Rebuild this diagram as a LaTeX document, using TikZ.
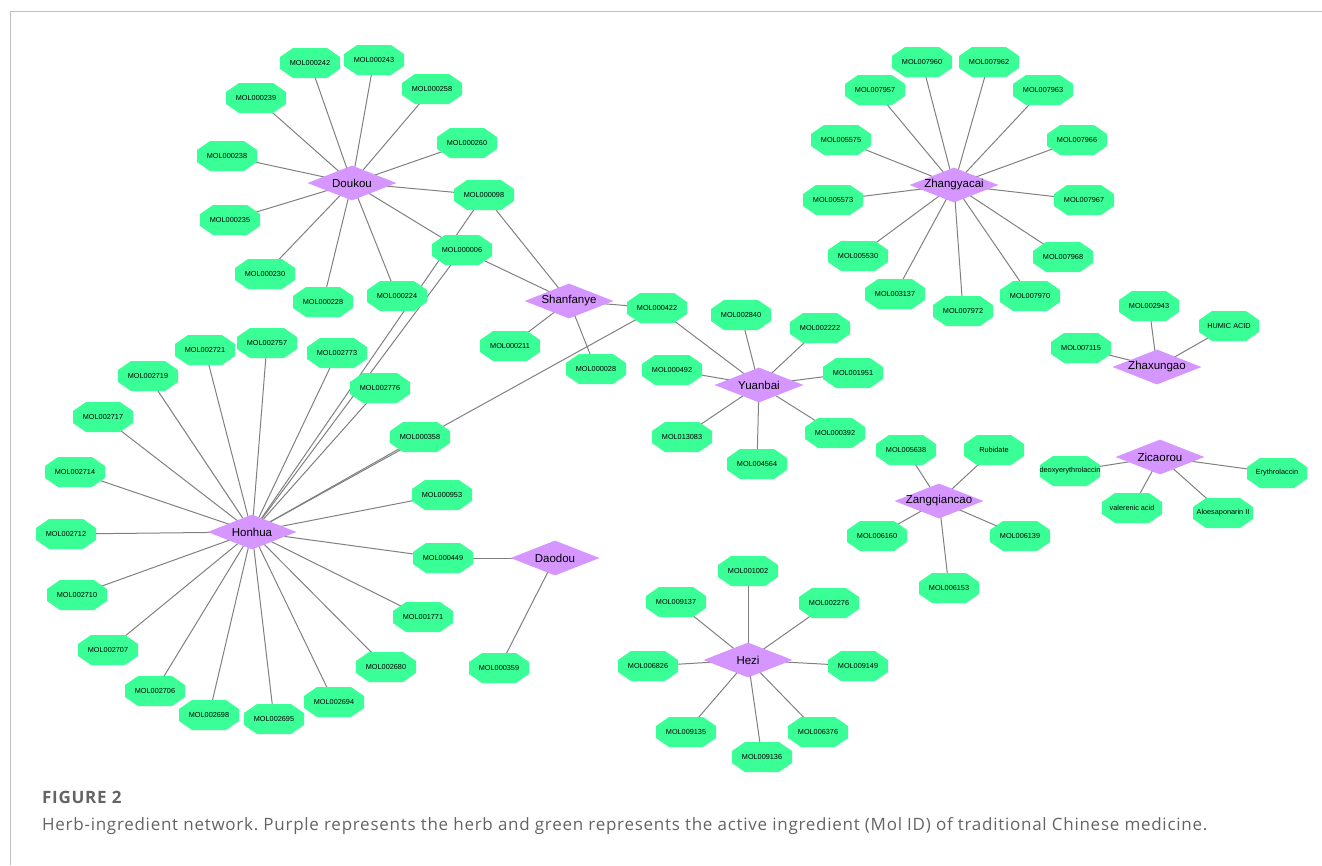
\documentclass[tikz,border=0pt]{standalone}
\usepackage{fontspec}
\setmainfont{Liberation Sans}
\newfontfamily\capfont[LetterSpace=4.3]{Open Sans}
\usetikzlibrary{shapes.geometric,backgrounds}
\definecolor{molgreen}{RGB}{58,255,150}
\definecolor{herbpurple}{RGB}{214,150,255}
\definecolor{edgegray}{RGB}{128,128,128}
\definecolor{framegray}{RGB}{190,190,190}
\definecolor{capgray}{RGB}{100,100,100}
\newcommand\mylbl[1]{\makebox[0pt]{#1}}
\tikzset{
  mol/.style={rectangle, draw=none, minimum width=60pt, minimum height=30pt, inner sep=0pt,
    font=\fontsize{7.3}{8}\selectfont,
    path picture={\fill[molgreen]
      ([xshift=13pt]path picture bounding box.north west) --
      ([xshift=-13pt]path picture bounding box.north east) --
      ([yshift=-9pt]path picture bounding box.north east) --
      ([yshift=9pt]path picture bounding box.south east) --
      ([xshift=-13pt]path picture bounding box.south east) --
      ([xshift=13pt]path picture bounding box.south west) --
      ([yshift=9pt]path picture bounding box.south west) --
      ([yshift=-9pt]path picture bounding box.north west) -- cycle;}},
  herb/.style={diamond, fill=herbpurple, draw=none, minimum width=89pt, minimum height=35pt,
    inner sep=0pt, font=\fontsize{11.5}{12}\selectfont},
  edge/.style={draw=edgegray, line width=1pt},
  frame/.style={draw=framegray, line width=1pt}
}
\begin{document}
\frenchspacing
\begin{tikzpicture}[x=1pt,y=-1pt]
\useasboundingbox (0,0) rectangle (1322,865);
\coordinate (ftl) at (10,11);
\coordinate (ftr) at (1322,11);
\coordinate (fbl) at (10,865);
\draw[frame] (fbl) -- (ftl) -- (ftr);

% herbs
\node[herb] (Doukou) at (352,183) {\mylbl{Doukou}};
\node[herb] (Honhua) at (252,532) {\mylbl{Honhua}};
\node[herb] (Shanfanye) at (569,301) {\mylbl{Shanfanye}};
\node[herb] (Yuanbai) at (759,385) {\mylbl{Yuanbai}};
\node[herb] (Zhangyacai) at (954,185) {\mylbl{Zhangyacai}};
\node[herb] (Zhaxungao) at (1157,367) {\mylbl{Zhaxungao}};
\node[herb] (Zicaorou) at (1160,457) {\mylbl{Zicaorou}};
\node[herb] (Zangqiancao) at (939,501) {\mylbl{Zangqiancao}};
\node[herb] (Daodou) at (555,558) {\mylbl{Daodou}};
\node[herb] (Hezi) at (748,660) {\mylbl{Hezi}};

% Doukou ingredients
\node[mol] (m000242) at (310,63) {\mylbl{MOL000242}};
\node[mol] (m000243) at (374,60) {\mylbl{MOL000243}};
\node[mol] (m000258) at (432,89) {\mylbl{MOL000258}};
\node[mol] (m000239) at (256,98) {\mylbl{MOL000239}};
\node[mol] (m000260) at (467,143) {\mylbl{MOL000260}};
\node[mol] (m000238) at (227,156) {\mylbl{MOL000238}};
\node[mol] (m000098) at (484,195) {\mylbl{MOL000098}};
\node[mol] (m000235) at (230,220) {\mylbl{MOL000235}};
\node[mol] (m000006) at (462,250) {\mylbl{MOL000006}};
\node[mol] (m000230) at (265,274) {\mylbl{MOL000230}};
\node[mol] (m000228) at (323,302) {\mylbl{MOL000228}};
\node[mol] (m000224) at (397,296) {\mylbl{MOL000224}};

% Honhua ingredients
\node[mol] (m002721) at (205,350) {\mylbl{MOL002721}};
\node[mol] (m002757) at (267,343) {\mylbl{MOL002757}};
\node[mol] (m002773) at (337,353) {\mylbl{MOL002773}};
\node[mol] (m002719) at (148,376) {\mylbl{MOL002719}};
\node[mol] (m002776) at (380,388) {\mylbl{MOL002776}};
\node[mol] (m002717) at (103,417) {\mylbl{MOL002717}};
\node[mol] (m000358) at (420,437) {\mylbl{MOL000358}};
\node[mol] (m002714) at (75,472) {\mylbl{MOL002714}};
\node[mol] (m000953) at (442,495) {\mylbl{MOL000953}};
\node[mol] (m002712) at (66,534) {\mylbl{MOL002712}};
\node[mol] (m000449) at (443,558) {\mylbl{MOL000449}};
\node[mol] (m002710) at (77,595) {\mylbl{MOL002710}};
\node[mol] (m001771) at (423,617) {\mylbl{MOL001771}};
\node[mol] (m002707) at (108,650) {\mylbl{MOL002707}};
\node[mol] (m002680) at (386,667) {\mylbl{MOL002680}};
\node[mol] (m002706) at (155,691) {\mylbl{MOL002706}};
\node[mol] (m002694) at (334,702) {\mylbl{MOL002694}};
\node[mol] (m002698) at (209,715) {\mylbl{MOL002698}};
\node[mol] (m002695) at (274,719) {\mylbl{MOL002695}};

% Shanfanye / Yuanbai
\node[mol] (m000422) at (657,308) {\mylbl{MOL000422}};
\node[mol] (m000211) at (510,346) {\mylbl{MOL000211}};
\node[mol] (m000028) at (596,369) {\mylbl{MOL000028}};
\node[mol] (m002840) at (741,315) {\mylbl{MOL002840}};
\node[mol] (m002222) at (820,328) {\mylbl{MOL002222}};
\node[mol] (m000492) at (672,370) {\mylbl{MOL000492}};
\node[mol] (m001951) at (853,373) {\mylbl{MOL001951}};
\node[mol] (m013083) at (682,437) {\mylbl{MOL013083}};
\node[mol] (m000392) at (835,433) {\mylbl{MOL000392}};
\node[mol] (m004564) at (757,464) {\mylbl{MOL004564}};

% Zhangyacai
\node[mol] (m007960) at (922,62) {\mylbl{MOL007960}};
\node[mol] (m007962) at (989,62) {\mylbl{MOL007962}};
\node[mol] (m007957) at (875,90) {\mylbl{MOL007957}};
\node[mol] (m007963) at (1043,90) {\mylbl{MOL007963}};
\node[mol] (m005575) at (841,140) {\mylbl{MOL005575}};
\node[mol] (m007966) at (1077,140) {\mylbl{MOL007966}};
\node[mol] (m005573) at (833,200) {\mylbl{MOL005573}};
\node[mol] (m007967) at (1084,200) {\mylbl{MOL007967}};
\node[mol] (m005530) at (858,256) {\mylbl{MOL005530}};
\node[mol] (m007968) at (1063,257) {\mylbl{MOL007968}};
\node[mol] (m003137) at (895,294) {\mylbl{MOL003137}};
\node[mol] (m007970) at (1030,296) {\mylbl{MOL007970}};
\node[mol] (m007972) at (963,311) {\mylbl{MOL007972}};

% Zhaxungao
\node[mol] (m002943) at (1149,306) {\mylbl{MOL002943}};
\node[mol] (humic) at (1229,326) {\mylbl{HUMIC ACID}};
\node[mol] (m007115) at (1081,348) {\mylbl{MOL007115}};

% Zicaorou
\node[mol] (deoxy) at (1070,471) {\mylbl{deoxyerythrolaccin}};
\node[mol] (erythro) at (1277,473) {\mylbl{Erythrolaccin}};
\node[mol] (valer) at (1132,508) {\mylbl{valerenic acid}};
\node[mol] (aloe) at (1223,513) {\mylbl{Aloesaponarin II}};

% Zangqiancao
\node[mol] (m005638) at (906,450) {\mylbl{MOL005638}};
\node[mol] (rubid) at (994,450) {\mylbl{Rubidate}};
\node[mol] (m006160) at (877,536) {\mylbl{MOL006160}};
\node[mol] (m006139) at (1020,536) {\mylbl{MOL006139}};
\node[mol] (m006153) at (949,588) {\mylbl{MOL006153}};

% Daodou
\node[mol] (m000359) at (499,668) {\mylbl{MOL000359}};

% Hezi
\node[mol] (m001002) at (748,571) {\mylbl{MOL001002}};
\node[mol] (m009137) at (676,602) {\mylbl{MOL009137}};
\node[mol] (m002276) at (829,603) {\mylbl{MOL002276}};
\node[mol] (m006826) at (648,666) {\mylbl{MOL006826}};
\node[mol] (m009149) at (858,666) {\mylbl{MOL009149}};
\node[mol] (m009135) at (686,732) {\mylbl{MOL009135}};
\node[mol] (m006376) at (818,732) {\mylbl{MOL006376}};
\node[mol] (m009136) at (762,757) {\mylbl{MOL009136}};

\begin{scope}[on background layer]
\foreach \m in {m000242,m000243,m000258,m000239,m000260,m000238,m000098,m000235,m000006,m000230,m000228,m000224}
  \draw[edge] (Doukou.center) -- (\m.center);
\foreach \m in {m002721,m002757,m002773,m002719,m002776,m002717,m000358,m002714,m000953,m002712,m000449,m002710,m001771,m002707,m002680,m002706,m002694,m002698,m002695,m000006,m000098,m000422}
  \draw[edge] (Honhua.center) -- (\m.center);
\foreach \m in {m000098,m000006,m000211,m000028,m000422}
  \draw[edge] (Shanfanye.center) -- (\m.center);
\foreach \m in {m000422,m002840,m002222,m000492,m001951,m013083,m000392,m004564}
  \draw[edge] (Yuanbai.center) -- (\m.center);
\foreach \m in {m007960,m007962,m007957,m007963,m005575,m007966,m005573,m007967,m005530,m007968,m003137,m007970,m007972}
  \draw[edge] (Zhangyacai.center) -- (\m.center);
\foreach \m in {m002943,humic,m007115}
  \draw[edge] (Zhaxungao.center) -- (\m.center);
\foreach \m in {deoxy,erythro,valer,aloe}
  \draw[edge] (Zicaorou.center) -- (\m.center);
\foreach \m in {m005638,rubid,m006160,m006139,m006153}
  \draw[edge] (Zangqiancao.center) -- (\m.center);
\foreach \m in {m000449,m000359}
  \draw[edge] (Daodou.center) -- (\m.center);
\foreach \m in {m001002,m009137,m002276,m006826,m009149,m009135,m006376,m009136}
  \draw[edge] (Hezi.center) -- (\m.center);
\end{scope}

% caption
\node[anchor=base west, inner sep=0pt, text=capgray, font=\capfont\bfseries\fontsize{17}{19}\selectfont] (figlabel) at (42,803) {FIGURE 2};
\node[anchor=base west, inner sep=0pt, text=capgray, font=\capfont\fontsize{17}{19}\selectfont] (figcap) at (42,830) {Herb-ingredient network. Purple represents the herb and green represents the active ingredient (Mol ID) of traditional Chinese medicine.};
\end{tikzpicture}
\end{document}
